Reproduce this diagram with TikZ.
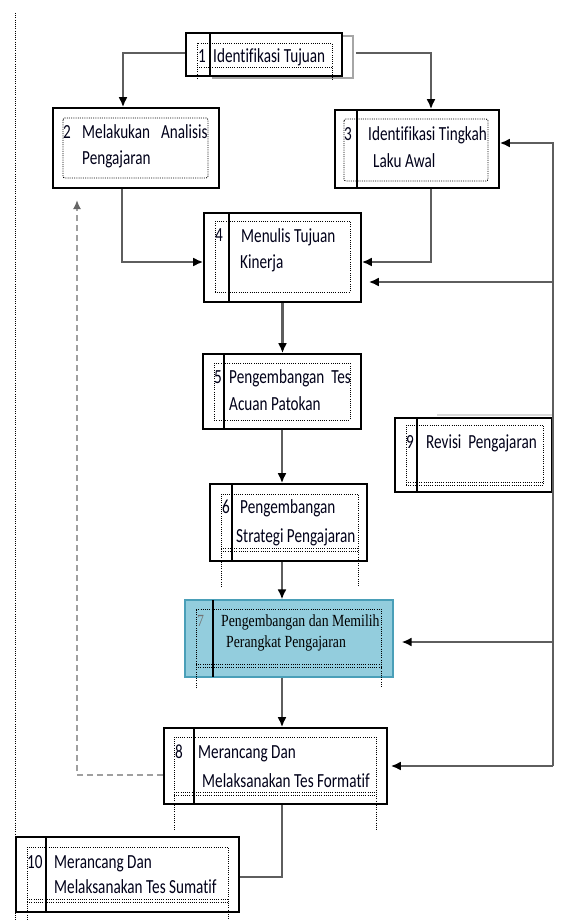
\documentclass[tikz,border=0pt]{standalone}
\usepackage{fontspec}
\setmainfont{Carlito}[FakeStretch=0.76, Ligatures=NoCommon]
\newfontfamily\sevenserif{Liberation Serif}[FakeStretch=0.81, Ligatures=NoCommon]
\usetikzlibrary{arrows.meta, fit, calc}
\definecolor{linkgray}{HTML}{5E5E5E}
\definecolor{shadowgray}{HTML}{A6A6A6}
\definecolor{sevenfill}{HTML}{93CDDD}
\definecolor{sevenedge}{HTML}{4BACC6}
\definecolor{sevenline}{HTML}{4A9FB8}
\pgfdeclarehorizontalshading{sevenshade}{100bp}{color(0bp)=(sevenedge); color(6bp)=(sevenfill); color(94bp)=(sevenfill); color(100bp)=(sevenedge)}
\tikzset{
  stepbox/.style={
    rectangle, draw=black, line width=1.6bp, inner sep=0pt,
  },
  sevenbox/.style={
    rectangle, draw=sevenline, line width=1.2bp, inner sep=0pt,
    shading=sevenshade,
  },
  colline/.style={line width=1.1bp, black},
  cellgrid/.style={line width=0.9bp, dash pattern=on 1bp off 1.2bp, black},
  shadowline/.style={line width=1.4bp, shadowgray},
  steptxt/.style={anchor=base west, inner sep=0pt, text=black!90!blue,
    font=\fontsize{20bp}{27bp}\selectfont},
  seventxt/.style={anchor=base west, inner sep=0pt,
    font=\sevenserif\fontsize{17bp}{21bp}\selectfont},
  arr/.style={-{Latex[length=10bp, width=9bp, color=black]}, line width=2.4bp, linkgray},
  plain/.style={line width=2.4bp, linkgray},
  darr/.style={-{Latex[length=9bp, width=8bp, color=gray!80!black]},
    line width=1.8bp, gray!75, dash pattern=on 6bp off 4bp},
}

\begin{document}
\begin{tikzpicture}[x=1bp, y=-1bp]
\path[use as bounding box, fill=white] (0,0) rectangle (564,920);

% ── margin rule at the left ────────────────────────────────────────────
\draw[cellgrid] (15,13) -- (15,920);

% ── 1: goal ────────────────────────────────────────────────────────────
\draw[shadowline] (342,36) -- (353,36) -- (353,78) -- (212,78);
\node[stepbox, fit={(186,33)(342,76)}] (b1) {};
\draw[colline] (210,33) -- (210,76);
\draw[cellgrid] (197,79) -- (197,43) -- (332,43) -- (332,79) (197,67) -- (332,67);
\node[steptxt] (n1) at (198,62) {1};
\node[steptxt] (t1) at (213,62) {Identifikasi Tujuan};

% ── 2 and 3: analysis row ─────────────────────────────────────────────
\node[stepbox, fit={(53,108)(219,188)}] (b2) {};
\draw[cellgrid, rounded corners=2bp] (63,118) rectangle (208,178);
\node[steptxt] (n2) at (63,138) {2};
\node[steptxt] (t2a) at (82,138) {Melakukan\hspace{11bp}Analisis};
\node[steptxt] (t2b) at (82,164) {Pengajaran};

\node[stepbox, fit={(335,110)(499,188)}] (b3) {};
\draw[colline] (357,110) -- (357,188);
\draw[cellgrid, rounded corners=2bp] (344,119) rectangle (488,181);
\node[steptxt] (n3) at (344,140) {3};
\node[steptxt] (t3a) at (368,140) {Identifikasi Tingkah};
\node[steptxt] (t3b) at (373,167) {Laku Awal};

% ── 4 and 5 ────────────────────────────────────────────────────────────
\node[stepbox, fit={(204,213)(361,302)}] (b4) {};
\draw[colline] (229,213) -- (229,302);
\draw[cellgrid] (215,221) rectangle (350,292);
\node[steptxt] (n4) at (215,241) {4};
\node[steptxt] (t4a) at (241,242) {Menulis Tujuan};
\node[steptxt] (t4b) at (240,268) {Kinerja};

\node[stepbox, fit={(203,354)(361,429)}] (b5) {};
\draw[colline] (224,354) -- (224,429);
\draw[cellgrid] (214,363) rectangle (350,420);
\node[steptxt] (n5) at (214,383) {5};
\node[steptxt] (t5a) at (229,383) {Pengembangan\ \ Tes};
\node[steptxt] (t5b) at (229,410) {Acuan Patokan};

% ── 9: revision, beside the feedback line ─────────────────────────────
\draw[shadowline, gray!30] (437,415) -- (552,415);
\node[stepbox, fit={(395,418)(552,492)}] (b9) {};
\draw[colline] (417,418) -- (417,492);
\draw[cellgrid] (406,485) -- (406,425) -- (543,425) -- (543,485)
                (406,482) -- (543,482) (406,485) -- (543,485);
\node[steptxt] (n9) at (406,448) {9};
\node[steptxt] (t9) at (426,448) {Revisi\ \ Pengajaran};

% ── 6 and 7 ────────────────────────────────────────────────────────────
\node[stepbox, fit={(210,484)(367,561)}] (b6) {};
\draw[colline] (232,484) -- (232,561);
\draw[cellgrid] (221,587) -- (221,494) -- (358,494) -- (358,587)
                (221,548) -- (358,548) (221,551) -- (358,551);
\node[steptxt] (n6) at (222,513) {6};
\node[steptxt] (t6a) at (240,513) {Pengembangan};
\node[steptxt] (t6b) at (236,542) {Strategi Pengajaran};

\node[sevenbox, fit={(185,600)(393,677)}] (b7) {};
\draw[colline] (213,600) -- (213,677);
\draw[cellgrid] (196,688) -- (196,609) -- (381,609) -- (381,688)
                (196,664) -- (381,664) (196,667) -- (381,667);
\node[seventxt, text=black!55] (n7) at (197,626) {7};
\node[seventxt] (t7a) at (221,626) {Pengembangan dan Memilih};
\node[seventxt] (t7b) at (226,647) {Perangkat Pengajaran};

% ── 8 and 10: tests ────────────────────────────────────────────────────
\node[stepbox, fit={(164,728)(387,804)}] (b8) {};
\draw[colline] (194,728) -- (194,804);
\draw[cellgrid] (174,830) -- (174,737) -- (376,737) -- (376,830)
                (174,792) -- (376,792) (174,795) -- (376,795);
\node[steptxt] (n8) at (175,758) {8};
\node[steptxt] (t8a) at (198,758) {Merancang Dan};
\node[steptxt] (t8b) at (202,787) {Melaksanakan Tes Formatif};

\node[stepbox, fit={(16,837)(239,912)}] (b10) {};
\draw[colline] (46,837) -- (46,912);
\draw[cellgrid] (27,920) -- (27,847) -- (228,847) -- (228,920)
                (27,899) -- (228,899) (27,902) -- (228,902);
\node[steptxt] (n10) at (27,868) {10};
\node[steptxt] (t10a) at (54,868) {Merancang Dan};
\node[steptxt] (t10b) at (54,893) {Melaksanakan Tes Sumatif};

% ── arrows: top split ──────────────────────────────────────────────────
\draw[arr] ([yshift=1.5bp]b1.west) -| ([xshift=-13bp]b2.north);
\draw[arr] ([xshift=13bp, yshift=1.5bp]b1.east) -| ([xshift=14bp]b3.north);

% ── arrows: merge into 4 ───────────────────────────────────────────────
\draw[arr] ([xshift=-14bp]b2.south) |- ([yshift=-4.5bp]b4.west);
\draw[arr] ([xshift=14bp]b3.south) |- ([yshift=-4.5bp]b4.east);

% ── main spine down the middle ────────────────────────────────────────
\draw[arr] (b4.south) -- (b4.south |- b5.north);
\draw[arr] (b5.south) -- (b5.south |- b6.north);
\draw[arr] (b6.south -| b5.south) -- (b7.north -| b5.south);
\draw[arr] (b7.south -| b5.south) -- (b8.north -| b5.south);
\draw[plain] (b8.south -| b5.south) |- ([yshift=-2.5bp]b10.east);

% ── feedback line on the right ────────────────────────────────────────
\coordinate (fbtop) at (553,143);
\coordinate (fbfour) at (553,282);
\coordinate (fbseven) at (553,642);
\coordinate (fbbot) at (553,766);
\draw[arr] (fbbot) -- (fbtop) -- (fbtop -| b3.east);
\draw[arr, shorten >=7bp] (fbfour) -- (fbfour -| b4.east);
\draw[arr, shorten >=8bp] (fbseven) -- (fbseven -| b7.east);
\draw[arr, shorten >=3bp] (fbbot) -- (fbbot -| b8.east);

% ── dashed return from 8 back up ──────────────────────────────────────
\coordinate (backtip) at (77,200);
\draw[darr] ([yshift=-9bp]b8.west) -| (backtip);

\end{tikzpicture}
\end{document}
